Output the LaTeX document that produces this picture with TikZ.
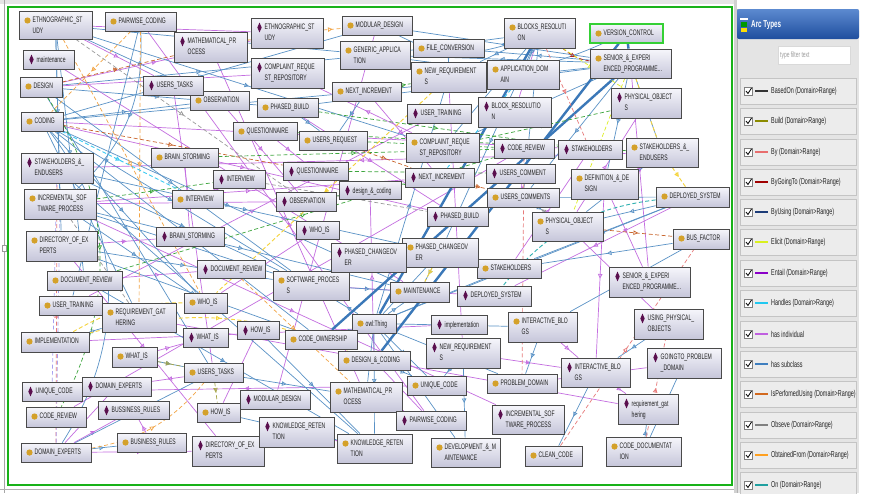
\documentclass[tikz,border=0pt]{standalone}
\usepackage{fontspec}
\setmainfont{Liberation Sans}[FakeStretch=0.63]
\usetikzlibrary{arrows.meta,decorations.markings,shadows}
\definecolor{gold}{HTML}{D4A12A}
\definecolor{dpur}{HTML}{5A0F4E}
\definecolor{boxline}{HTML}{4A4A4A}
\definecolor{boxtop}{HTML}{F6F6FB}
\definecolor{boxbot}{HTML}{C6C6DA}
\definecolor{txtc}{HTML}{222222}
\definecolor{vgreen}{HTML}{35D035}
\definecolor{framec}{HTML}{19B219}
\definecolor{indc}{HTML}{C46EE0}
\definecolor{subc}{HTML}{5A92C6}
\definecolor{subthick}{HTML}{3B78B8}
\definecolor{cgreen}{HTML}{3DA53D}
\definecolor{corange}{HTML}{F2A444}
\definecolor{cbrown}{HTML}{C8642C}
\definecolor{cgrey}{HTML}{9A9A9A}
\definecolor{cyellow}{HTML}{F5D33A}
\definecolor{ccyan}{HTML}{3CCBF2}
\definecolor{cred}{HTML}{E77A7A}
\definecolor{cdred}{HTML}{B22222}
\definecolor{cteal}{HTML}{2EB0B0}
\definecolor{colive}{HTML}{A5A548}
\definecolor{clav}{HTML}{A8A0F0}
\definecolor{cyg}{HTML}{DDEE22}
\definecolor{panelbg}{HTML}{E4E4E4}
\definecolor{rowbg}{HTML}{ECECEC}
\definecolor{rowline}{HTML}{C4C4C4}
\definecolor{hdrtop}{HTML}{5C8AD0}
\definecolor{hdrbot}{HTML}{1F4E9E}
\definecolor{lg1}{HTML}{333333}
\definecolor{lg2}{HTML}{8C8C00}
\definecolor{lg3}{HTML}{E86E6E}
\definecolor{lg4}{HTML}{A00000}
\definecolor{lg5}{HTML}{1C3C78}
\definecolor{lg6}{HTML}{D9F01E}
\definecolor{lg7}{HTML}{8A00C8}
\definecolor{lg8}{HTML}{21C8F0}
\definecolor{lg9}{HTML}{C060E0}
\definecolor{lg10}{HTML}{3F7FBF}
\definecolor{lg11}{HTML}{D2691E}
\definecolor{lg12}{HTML}{808080}
\definecolor{lg13}{HTML}{FFA020}
\definecolor{lg14}{HTML}{20A0A0}
\pgfdeclarelayer{bg}\pgfdeclarelayer{edges}\pgfsetlayers{bg,edges,main}
\tikzset{
 box/.style={draw=boxline, line width=0.7pt, top color=boxtop, bottom color=boxbot, inner sep=0pt,
   drop shadow={shadow xshift=0.9pt, shadow yshift=-0.9pt, opacity=0.35}},
 txt/.style={inner sep=0pt, anchor=north west, align=left, font=\fontsize{8}{10.8}\selectfont, text=txtc},
 mid/.style={postaction={decorate}, decoration={markings, mark=at position 0.5 with {\arrow{Triangle[open,length=4.5pt,width=4.5pt]}}}},
 ed/.style={line width=0.7pt, mid},
 hi/.style={ed, draw=indc},
 hs/.style={ed, draw=subc},
 hsb/.style={draw=subthick, line width=2.4pt},
 dsh/.style={ed, dash pattern=on 4pt off 2.5pt},
 dg/.style={dsh, draw=cgreen},
 dor/.style={dsh, draw=corange},
 dbr/.style={dsh, draw=cbrown},
 dgy/.style={dsh, draw=cgrey},
 dy/.style={dsh, draw=cyellow, line width=0.9pt},
 dcy/.style={dsh, draw=ccyan, line width=0.9pt},
 drd/.style={dsh, draw=cred},
 ddr/.style={dsh, draw=cdred},
 dtl/.style={dsh, draw=cteal, line width=0.9pt},
 dol/.style={dsh, draw=colive},
 dlv/.style={dsh, draw=clav},
 dyg/.style={dsh, draw=cyg},
 legrow/.style={draw=rowline, fill=rowbg, minimum width=116pt, minimum height=26pt, inner sep=0pt},
 legtxt/.style={anchor=west, inner sep=0pt, font=\fontsize{8.6}{9}\selectfont, text=txtc}
}
\newcommand\ndc[7][]{%
  \node[box,#1,minimum width={(#5-#3)*1pt},minimum height={(#6-#4)*1pt}] (#2) at ({(#3+#5)/2},{(#4+#6)/2}) {};
  \fill[gold] ({#3+8.5},{#4+9.5}) circle (3.1pt);
  \node[txt] (#2t) at ({#3+13.5},{#4+6.2}) {#7};
}
\newcommand\ndi[7][]{%
  \node[box,#1,minimum width={(#5-#3)*1pt},minimum height={(#6-#4)*1pt}] (#2) at ({(#3+#5)/2},{(#4+#6)/2}) {};
  \fill[dpur] ({#3+8.5},{#4+4.6}) -- ({#3+10.7},{#4+9.5}) -- ({#3+8.5},{#4+14.4}) -- ({#3+6.3},{#4+9.5}) -- cycle;
  \node[txt] (#2t) at ({#3+13.5},{#4+6.2}) {#7};
}
\begin{document}
\begin{tikzpicture}[x=1pt,y=-1pt]
\useasboundingbox (0,0) rectangle (870,493);
\begin{pgfonlayer}{bg}
\fill[white] (0,0) rectangle (870,493);
\fill[black!10] (0,0) rectangle (735,3.5);
\draw[black!35, line width=0.6pt] (4,0) -- (4,493);
\draw[black!30, line width=0.6pt] (0,489) -- (735,489);
\fill[black!18] (733.5,0) rectangle (737,493);
\end{pgfonlayer}

% ---- classes
\ndc{ethC}{19}{11}{92}{39}{ETHNOGRAPHIC\_ST\\UDY}
\ndc{pairC}{105}{12}{176}{31}{PAIRWISE\_CODING}
\ndc{mathC}{330}{382}{402}{412}{MATHEMATICAL\_PR\\OCESS}
\ndc{desC}{20}{77}{62}{97}{DESIGN}
\ndc{codC}{21}{112}{63}{131}{CODING}
\ndc{quesC}{233}{122}{297}{140}{QUESTIONNAIRE}
\ndc{brainC}{151}{148}{218}{167}{BRAIN\_STORMING}
\ndc{obsC}{190}{91}{249}{110}{OBSERVATION}
\ndc{modC}{342}{16}{412}{35}{MODULAR\_DESIGN}
\ndc{genC}{340}{41}{410}{69}{GENERIC\_APPLICA\\TION}
\ndc{fileC}{413}{39}{484}{57}{FILE\_CONVERSION}
\ndc{newC}{411}{62}{486}{92}{NEW\_REQUIREMENT\\S}
\ndc{appC}{487}{60}{559}{89}{APPLICATION\_DOM\\AIN}
\ndc{nextC}{332}{82}{401}{101}{NEXT\_INCREMENT}
\ndc{phbC}{257}{98}{318}{117}{PHASED\_BUILD}
\ndc{usreqC}{299}{131}{367}{150}{USERS\_REQUEST}
\ndc{compC}{406}{133}{479}{162}{COMPLAINT\_REQUE\\ST\_REPOSITORY}
\ndc{blocksC}{504}{18}{575}{48}{BLOCKS\_RESOLUTI\\ON}
\ndc[draw=vgreen,line width=1.3pt]{verC}{590}{24}{663}{43}{VERSION\_CONTROL}
\ndc{senC}{590}{49}{671}{78}{SENIOR\_\&\_EXPERI\\ENCED\_PROGRAMME...}
\ndc{stakeEC}{626}{138}{698}{167}{STAKEHOLDERS\_\&\_\\ENDUSERS}
\ndc{uscsC}{487}{188}{559}{207}{USERS\_COMMENTS}
\ndc{physC}{532}{212}{603}{241}{PHYSICAL\_OBJECT\\S}
\ndc{defC}{571}{169}{638}{199}{DEFINITION\_\&\_DE\\SIGN}
\ndc{depC}{656}{187}{729}{207}{DEPLOYED\_SYSTEM}
\ndc{busC}{673}{229}{729}{249}{BUS\_FACTOR}
\ndc{stakeC}{477}{259}{541}{278}{STAKEHOLDERS}
\ndc{intC}{508}{312}{577}{342}{INTERACTIVE\_BLO\\GS}
\ndc{phcC}{402}{238}{478}{267}{PHASED\_CHANGEOV\\ER}
\ndc{swC}{273}{271}{349}{300}{SOFTWARE\_PROCES\\S}
\ndc{mainC}{390}{282}{449}{302}{MAINTENANCE}
\ndc{owlC}{352}{314}{396}{333}{owl:Thing}
\ndc{incC}{24}{189}{96}{219}{INCREMENTAL\_SOF\\TWARE\_PROCESS}
\ndc{intvC}{172}{190}{223}{208}{INTERVIEW}
\ndc{dirC}{26}{231}{97}{261}{DIRECTORY\_OF\_EX\\PERTS}
\ndc{docC}{47}{271}{122}{290}{DOCUMENT\_REVIEW}
\ndc{utrC}{39}{296}{102}{315}{USER\_TRAINING}
\ndc{reqC}{102}{303}{176}{332}{REQUIREMENT\_GAT\\HERING}
\ndc{whoC}{184}{293}{227}{313}{WHO\_IS}
\ndc{implC}{21}{332}{89}{352}{IMPLEMENTATION}
\ndc{whatC}{112}{347}{157}{367}{WHAT\_IS}
\ndc{taskC}{184}{363}{243}{382}{USERS\_TASKS}
\ndc{crC}{26}{407}{86}{427}{CODE\_REVIEW}
\ndc{howC}{197}{403}{240}{422}{HOW\_IS}
\ndc{bizC}{117}{433}{186}{452}{BUSINESS\_RULES}
\ndc{domC}{21}{443}{91}{462}{DOMAIN\_EXPERTS}
\ndc{cownC}{285}{330}{357}{349}{CODE\_OWNERSHIP}
\ndc{dcC}{338}{351}{410}{370}{DESIGN\_\&\_CODING}
\ndc{uniqC}{407}{376}{466}{395}{UNIQUE\_CODE}
\ndc{knowC}{337}{434}{412}{463}{KNOWLEDGE\_RETEN\\TION}
\ndc{devC}{431}{438}{500}{467}{DEVELOPMENT\_\&\_M\\AINTENANCE}
\ndc{probC}{487}{374}{557}{393}{PROBLEM\_DOMAIN}
\ndc{cleanC}{525}{446}{582}{466}{CLEAN\_CODE}
\ndc{cdocC}{606}{437}{681}{466}{CODE\_DOCUMENTAT\\ION}
% ---- individuals
\ndi{ethI}{251}{18}{323}{48}{ETHNOGRAPHIC\_ST\\UDY}
\ndi{mathI}{174}{32}{247}{62}{MATHEMATICAL\_PR\\OCESS}
\ndi{maintI}{23}{50}{74}{69}{maintenance}
\ndi{taskI}{143}{76}{203}{95}{USERS\_TASKS}
\ndi{compI}{251}{58}{324}{88}{COMPLAINT\_REQUE\\ST\_REPOSITORY}
\ndi{utrI}{407}{104}{471}{123}{USER\_TRAINING}
\ndi{blockI}{478}{97}{551}{127}{BLOCK\_RESOLUTIO\\N}
\ndi{quesI}{283}{162}{348}{180}{QUESTIONNAIRE}
\ndi{physI}{611}{88}{681}{118}{PHYSICAL\_OBJECT\\S}
\ndi{crI}{494}{139}{554}{158}{CODE\_REVIEW}
\ndi{stakeI}{558}{140}{622}{159}{STAKEHOLDERS}
\ndi{stakeEI}{21}{153}{93}{183}{STAKEHOLDERS\_\&\_\\ENDUSERS}
\ndi{nextI}{405}{168}{474}{187}{NEXT\_INCREMENT}
\ndi{uscI}{486}{164}{555}{183}{USERS\_COMMENT}
\ndi{phbI}{427}{207}{488}{226}{PHASED\_BUILD}
\ndi{dcI}{339}{181}{401}{199}{design\_\&\_coding}
\ndi{obsI}{276}{192}{336}{211}{OBSERVATION}
\ndi{intvI}{213}{170}{265}{188}{INTERVIEW}
\ndi{brainI}{156}{227}{224}{246}{BRAIN\_STORMING}
\ndi{whoI}{296}{221}{339}{239}{WHO\_IS}
\ndi{phcI}{331}{243}{406}{272}{PHASED\_CHANGEOV\\ER}
\ndi{docI}{197}{260}{265}{278}{DOCUMENT\_REVIEW}
\ndi{depI}{457}{286}{531}{306}{DEPLOYED\_SYSTEM}
\ndi{senI}{609}{267}{690}{297}{SENIOR\_\&\_EXPERI\\ENCED\_PROGRAMME...}
\ndi{usingI}{634}{309}{703}{339}{USING\_PHYSICAL\_\\OBJECTS}
\ndi{implI}{431}{315}{487}{334}{implementation}
\ndi{howI}{237}{321}{279}{339}{HOW\_IS}
\ndi{whatI}{183}{328}{228}{347}{WHAT\_IS}
\ndi{newI}{426}{338}{500}{368}{NEW\_REQUIREMENT\\S}
\ndi{uniqI}{22}{382}{82}{401}{UNIQUE\_CODE}
\ndi{domI}{82}{377}{151}{396}{DOMAIN\_EXPERTS}
\ndi{modI}{240}{390}{310}{409}{MODULAR\_DESIGN}
\ndi{bizI}{98}{401}{169}{419}{BUSSINESS\_RULES}
\ndi{dirI}{192}{436}{264}{466}{DIRECTORY\_OF\_EX\\PERTS}
\ndi{knowI}{259}{417}{334}{447}{KNOWLEDGE\_RETEN\\TION}
\ndi{pairI}{396}{411}{466}{430}{PAIRWISE\_CODING}
\ndi{intI}{561}{358}{630}{387}{INTERACTIVE\_BLO\\GS}
\ndi{goI}{647}{348}{721}{378}{GOINGTO\_PROBLEM\\\_DOMAIN}
\ndi{reqI}{618}{394}{678}{424}{requirement\_gat\\hering}
\ndi{incI}{492}{405}{564}{434}{INCREMENTAL\_SOF\\TWARE\_PROCESS}

\begin{pgfonlayer}{edges}
% has individual
\foreach \a/\b in {ethC/ethI,pairC/pairI,mathC/mathI,compC/compI,nextC/nextI,phbC/phbI,quesC/quesI,brainC/brainI,
  stakeEC/stakeEI,intvC/intvI,obsC/obsI,taskC/taskI,docC/docI,utrC/utrI,whoC/whoI,whatC/whatI,howC/howI,phcC/phcI,
  stakeC/stakeI,depC/depI,senC/senI,physC/physI,uscsC/uscI,crC/crI,uniqC/uniqI,domC/domI,bizC/bizI,dirC/dirI,
  modC/modI,knowC/knowI,newC/newI,intC/intI,incC/incI,blocksC/blockI,dcC/dcI,implC/implI,reqC/reqI,probC/goI,
  mainC/maintI,physC/usingI,codC/stakeI,desC/compI,incC/obsI,domC/bizI,taskC/domI,domC/dirI,swC/depI,defC/intI,
  defC/senI,ethC/taskI,codC/phbI,desC/ethI,dirC/brainI,incC/nextI,newI/intI,intI/reqI,dcC/pairI,mathC/pairI}
  {\draw[hi] (\a) -- (\b);}
% has subclass
\foreach \a/\b in {owlC/swC,owlC/mainC,owlC/phcC,owlC/stakeC,owlC/intC,owlC/uniqC,owlC/knowC,owlC/cownC,owlC/mathC,
  owlC/devC,owlC/probC,owlC/newC,owlC/depC,ethC/genC,ethC/compC,ethC/obsC,ethC/incC,ethC/dirC,ethC/docC,pairC/utrC,
  desC/phbC,desC/genC,desC/swC,desC/taskC,codC/obsC,codC/modC,codC/nextC,codC/swC,codC/whoC,codC/reqC,codC/cownC,
  codC/mainC,stakeEI/swC,stakeEI/phcC,stakeEI/knowC,incC/swC,incC/whoC,incC/mainC,dirC/swC,dirC/cownC,docC/knowC,
  genC/appC,genC/newC,fileC/newC,genC/blocksC,blocksC/compC,blocksC/newC,blocksC/uscsC,blocksC/phcC,blocksC/appC,
  senC/stakeEC,senC/defC,senC/uscsC,senC/compC,senC/phbC,senC/nextC,senC/modC,senC/genC,senC/fileC,
  stakeEC/physC,depC/physC,depC/uscsC,busC/stakeC,busC/intC,depC/stakeC,intC/probC,intI/cleanC,cdocC/goI,
  cdocC/reqI,usingI/intI,howC/knowC,howI/knowC,taskC/mathC,dcC/uniqC,newI/devC,newI/uniqC,implC/reqC,
  whatC/taskC,domC/taskC,domC/bizC,nextC/usreqC,phbC/usreqC,uscsC/physC,phcC/mainC,swC/mainC}
  {\draw[hs] (\a) -- (\b);}
\draw[hs] (codC) to[bend left=35] (domC);
\draw[hs] (modC) to[bend right=22] (blocksC);
\draw[hs] (genC) to[bend right=18] (verC);
\draw[hs] (pairC) to[bend left=25] (incC);
% thick subclass
\draw[hsb] (verC) -- (senC);
\draw[hsb] (cownC) -- (senC);
\draw[hsb] (dcC) -- (verC);
\draw[hsb] (owlC) -- (blocksC);
% object properties
\foreach \a/\b in {phbC/stakeI,usreqC/crI,quesC/stakeEC,incC/intvI,docC/crI,nextC/newC,brainC/crI,compC/physI,obsI/nextI,quesI/uscI}
  {\draw[dg] (\a) -- (\b);}
\draw[dg] (desC) to[bend left=30] (crC);
\foreach \a/\b in {pairC/codC,ethC/whoC,pairC/reqC,mathI/ethI,ethI/modC,docI/mathC}
  {\draw[dor] (\a) -- (\b);}
\draw[dor] (domC) to[bend right=20] (taskC);
\foreach \a/\b in {codC/quesI,nextI/uscsC,physC/busC,desC/mathI,usreqC/nextI}
  {\draw[dbr] (\a) -- (\b);}
\foreach \a/\b in {ethC/obsI,intvI/phbI,physC/uscsC,incC/reqC}
  {\draw[dgy] (\a) -- (\b);}
\foreach \a/\b in {newC/whoC,stakeEC/depC,senC/stakeEC,phcC/mainC}
  {\draw[dy] (\a) -- (\b);}
\draw[dy] (implC) to[bend left=18] (dcC);
\draw[dy] (implC) to[bend left=15] (whoC);
\draw[dcy] (codC) -- (intvC);
\draw[dcy] (appC) -- (nextI);
\draw[dtl] (depC) to[bend right=22] (depI);
\foreach \a/\b in {crI/probC,cleanC/busC,cdocC/usingI,domC/stakeEI,blocksC/stakeI}
  {\draw[drd] (\a) -- (\b);}
\draw[ddr] (blocksC) to[bend right=15] (senC);
\draw[dol] (whatC) -- (taskC);
\draw[dol] (taskC) -- (howC);
\draw[dlv] (domC) -- (incC);
\draw[dlv] (uniqI) -- (stakeEI);
\draw[dyg] (blocksC) -- (physI);
\draw[dyg] (senC) -- (physC);
\end{pgfonlayer}

% frame
\draw[framec, line width=2.5pt] (8,7) rectangle (732,485);
\draw[black!40, fill=white] (2,245) rectangle (6,251);

% legend panel
\fill[panelbg] (737,9) rectangle (859,493);
\draw[black!30] (737,9) -- (737,493);
\shade[top color=hdrtop, bottom color=hdrbot, rounded corners=2pt] (737,9) rectangle (859,39);
\fill[white] (740,18) rectangle (748,20);
\fill[green!60!black] (741,22) rectangle (747,27);
\fill[yellow!80!orange] (741,28) rectangle (747,32);
\node[anchor=west, inner sep=0pt, text=white, font=\fontsize{10}{11}\selectfont\bfseries] (hdr) at (751,25) {Arc Types};
\node[draw=black!15, fill=white, minimum width=72pt, minimum height=18pt, inner sep=0pt] (filt) at (814,55) {};
\node[anchor=west, inner sep=0pt, text=black!40, font=\fontsize{7.8}{9}\selectfont] (filtt) at (780,55) {type filter text};
\foreach \yy/\cc/\tt [count=\i] in {91/lg1/BasedOn (Domain>Range),121/lg2/Build (Domain>Range),152/lg3/By (Domain>Range),
   182/lg4/ByGoingTo (Domain>Range),212/lg5/ByUsing (Domain>Range),242/lg6/Elicit (Domain>Range),
   273/lg7/Entail (Domain>Range),303/lg8/Handles (Domain>Range),334/lg9/has individual,364/lg10/has subclass,
   394/lg11/IsPerfomedUsing (Domain>Range),425/lg12/Obseve (Domain>Range),455/lg13/ObtainedFrom (Domain>Range),
   485/lg14/On (Domain>Range)}{
  \node[legrow] (row\i) at (798,\yy) {};
  \draw[black!50, fill=white, line width=0.4pt] (744.5,\yy-4) rectangle (752.5,\yy+4);
  \draw[black, line width=0.8pt] (746,\yy) -- (748,\yy+2.5) -- (751.5,\yy-3);
  \draw[\cc, line width=2.4pt] (755,\yy) -- (768,\yy);
  \node[legtxt] (leg\i) at (771,\yy) {\tt};
}
\end{tikzpicture}
\end{document}
